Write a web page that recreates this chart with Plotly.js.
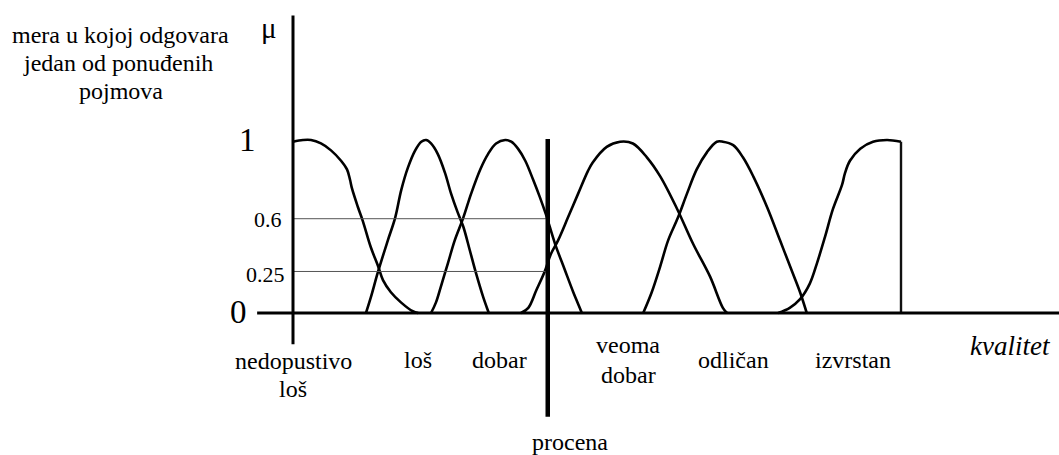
<!DOCTYPE html>
<html>
<head>
<meta charset="utf-8">
<script src="https://cdn.plot.ly/plotly-3.0.1.min.js"></script>
<style>html,body{margin:0;padding:0;background:#fff;}#chart{width:1059px;height:455px;}</style>
</head>
<body>
<div id="chart"></div>
<script>
// ---- data (quality on a 0..100 scale, membership 0..1 as drawn) ----
var categories = ["nedopustivo\nloš", "loš", "dobar", "veoma\ndobar", "odličan", "izvrstan"];

var nedopustivoX = [0, 1.64, 2.96, 4.6, 6.25, 7.9, 8.88, 9.38, 9.7, 10.7, 11.5, 12.8, 14.0, 14.8, 16.1, 17.8, 19.7, 20.6];
var nedopustivoY = [0.99, 1.0, 1.0, 0.98, 0.94, 0.88, 0.83, 0.77, 0.72, 0.61, 0.53, 0.38, 0.27, 0.19, 0.12, 0.06, 0.01, 0];

var losX = [12.0, 12.8, 14.0, 15.6, 16.8, 17.8, 18.9, 20.1, 21.1, 21.9, 22.7, 23.8, 25.0, 26.0, 27.1, 28.0, 29.1, 30.1, 31.3, 32.1, 32.2];
var losY = [0, 0.09, 0.24, 0.42, 0.55, 0.71, 0.84, 0.94, 0.99, 1.0, 0.98, 0.92, 0.81, 0.69, 0.58, 0.50, 0.36, 0.23, 0.09, 0.01, 0];

var dobarX = [22.7, 23.5, 24.3, 25.5, 26.6, 28.0, 29.3, 30.8, 32.1, 33.4, 34.9, 35.9, 37.0, 38.2, 39.5, 40.6, 41.6, 43.1, 44.7, 46.1, 47.4, 47.5];
var dobarY = [0, 0.06, 0.15, 0.29, 0.42, 0.55, 0.69, 0.83, 0.92, 0.98, 1.0, 0.99, 0.95, 0.88, 0.77, 0.67, 0.57, 0.40, 0.25, 0.12, 0.01, 0];

var veomaX = [37.5, 38.7, 40.0, 41.4, 42.4, 43.6, 45.2, 46.9, 48.5, 49.3, 51.6, 53.8, 55.9, 58.2, 60.4, 63.2, 65.8, 68.6, 70.7, 71.4];
var veomaY = [0, 0.03, 0.13, 0.24, 0.34, 0.42, 0.55, 0.69, 0.82, 0.87, 0.96, 0.99, 0.98, 0.90, 0.79, 0.60, 0.40, 0.21, 0.03, 0];

var odlicanX = [57.6, 59.0, 60.4, 61.7, 63.3, 64.8, 66.4, 68.1, 69.7, 70.7, 72.4, 74.0, 75.7, 78.0, 80.1, 82.2, 83.4, 84.5];
var odlicanY = [0, 0.12, 0.27, 0.42, 0.55, 0.69, 0.83, 0.93, 0.99, 0.99, 0.97, 0.90, 0.79, 0.61, 0.42, 0.23, 0.12, 0];

var izvrstanX = [79.8, 81.7, 83.4, 85.0, 86.2, 87.5, 88.8, 90.3, 90.8, 91.6, 93.3, 95.4, 97.7, 100];
var izvrstanY = [0, 0.03, 0.08, 0.17, 0.29, 0.44, 0.60, 0.74, 0.81, 0.88, 0.95, 0.99, 1.0, 0.99];
var izvrstanEndX = [100, 100];
var izvrstanEndY = [0.99, 0];

var procenaX = 41.9;               // the assessment
var levelY = [0.24, 0.545];        // memberships read at the assessment (as drawn)
var levelLabels = ["0.25", "0.6"];
var tickLabels = ["0", "1"];

var yTitleLines = ["mera u kojoj odgovara", "jedan od ponuđenih", "pojmova"];
var muLabel = "μ";
var xTitle = "kvalitet";
var procenaLabel = "procena";

// ---- layout helpers (pixel -> paper) ----
var W = 1059, H = 455;
function PX(x) { return x / W; }
function PY(y) { return 1 - y / H; }
var FONT = "Liberation Serif";

var curves = [[nedopustivoX, nedopustivoY], [losX, losY], [dobarX, dobarY],
              [veomaX, veomaY], [odlicanX, odlicanY], [izvrstanX, izvrstanY]];
var traces = curves.map(function (c, i) {
  return { x: c[0], y: c[1], type: "scatter", mode: "lines", name: categories[i],
           line: { color: "#000", width: 2.6, shape: "spline", smoothing: 1.0 },
           hoverinfo: "skip" };
});
traces.push({ x: izvrstanEndX, y: izvrstanEndY, type: "scatter", mode: "lines",
              line: { color: "#111", width: 2.4 }, hoverinfo: "skip" });

var shapes = [];
levelY.forEach(function (v) {
  shapes.push({ type: "line", xref: "x", yref: "y", x0: 0, x1: procenaX, y0: v, y1: v,
                line: { color: "#555", width: 1 } });
});
shapes.push({ type: "line", xref: "x", yref: "y", x0: 0, x1: 0, y0: -0.18, y1: 1.72,
              line: { color: "#000", width: 3 } });
shapes.push({ type: "line", xref: "x", yref: "y", x0: -5.9, x1: 126, y0: 0, y1: 0,
              line: { color: "#000", width: 3.2 } });
shapes.push({ type: "line", xref: "x", yref: "y", x0: procenaX, x1: procenaX, y0: -0.60, y1: 1.006,
              line: { color: "#000", width: 4.5 } });

var annotations = [];
function addText(text, x, y, size, italic) {
  annotations.push({ text: italic ? "<i>" + text + "</i>" : text,
    xref: "paper", yref: "paper", x: PX(x), y: PY(y),
    xanchor: "center", yanchor: "middle", showarrow: false,
    font: { family: FONT, size: size, color: "#000" } });
}

var labelPx = [293, 417.5, 499.5, 628, 733, 852.5];
var labelPy1 = [361, 360, 360, 345, 360, 360];
var lineGap = [28, 0, 0, 30, 0, 0];
categories.forEach(function (c, i) {
  c.split("\n").forEach(function (p, k) {
    addText(p, labelPx[i], labelPy1[i] + k * lineGap[i], 24, false);
  });
});

var yTitlePy = [35, 63, 91];
var yTitlePx = [120, 118, 121];
yTitleLines.forEach(function (t, i) { addText(t, yTitlePx[i], yTitlePy[i], 24, false); });
addText(muLabel, 269, 28, 29, false);

addText(tickLabels[0], 238, 312, 33, false);
addText(tickLabels[1], 247, 140, 33, false);
addText(levelLabels[0], 265, 274, 22, false);
addText(levelLabels[1], 268, 219, 22, false);

addText(xTitle, 1010, 346, 27, true);
addText(procenaLabel, 570, 442, 24, false);

var xr0 = -293 / 6.08, xr1 = (1059 - 293) / 6.08;
var yr0 = (313 - 455) / 173, yr1 = 313 / 173;

var layout = {
  width: W, height: H, autosize: false,
  margin: { l: 0, r: 0, t: 0, b: 0, pad: 0 },
  paper_bgcolor: "#fff", plot_bgcolor: "#fff",
  showlegend: false,
  font: { family: FONT },
  xaxis: { range: [xr0, xr1], visible: false, fixedrange: true },
  yaxis: { range: [yr0, yr1], visible: false, fixedrange: true },
  shapes: shapes,
  annotations: annotations
};

Plotly.newPlot("chart", traces, layout, { displayModeBar: false, staticPlot: true });
</script>
</body>
</html>
